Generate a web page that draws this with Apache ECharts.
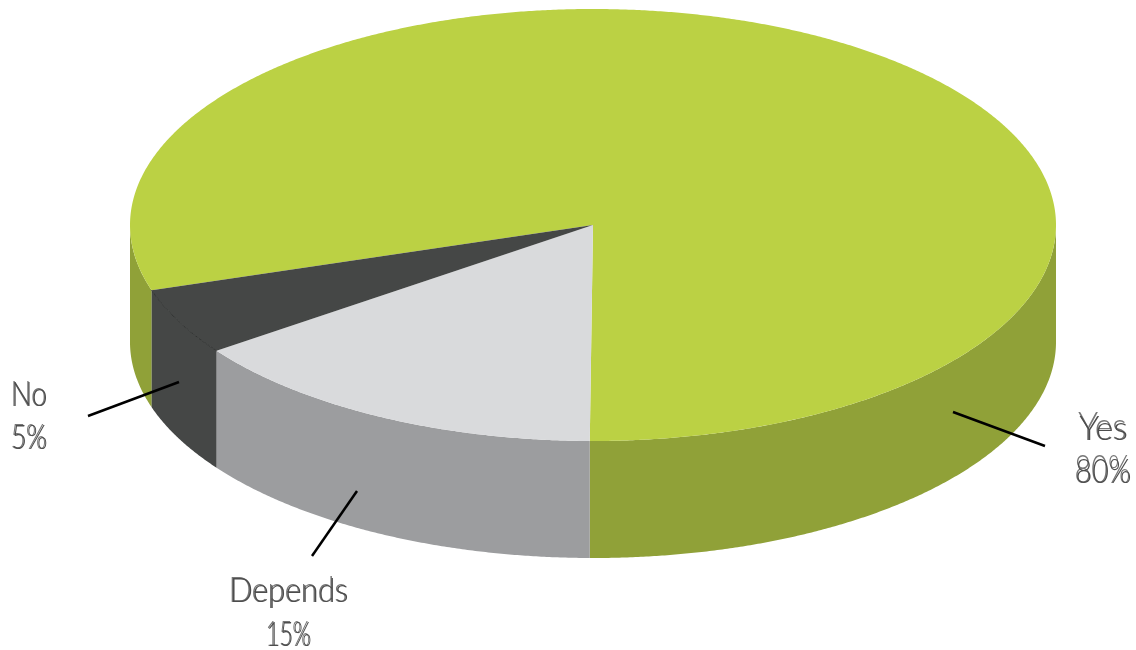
<!DOCTYPE html>
<html>
<head>
<meta charset="utf-8">
<style>html,body{margin:0;padding:0;background:#fff}#chart{width:1136px;height:650px}</style>
<script src="https://cdn.jsdelivr.net/npm/echarts@6/dist/echarts.min.js"></script>
</head>
<body>
<div id="chart"></div>
<script>
// Survey answers
const categories = ['Yes', 'Depends', 'No'];
const shares = [80, 15, 5];
const valueLabels = ['80%', '15%', '5%'];

// Slice colours
const topColors = ['#bbd144', '#d9dadc', '#454746'];
const sideColors = ['#90a138', '#9c9d9f', '#454746'];

// Disc geometry in pixels; angles run clockwise from the front of the disc
const disc = { cx: 593, cy: 225, rx: 463, ry: 216, depth: 117, firstAngle: 72.4 };

// Callout placement: leader line ends, text block position and horizontal fit for each slice
const callouts = [
  { line: [[953, 412], [1045, 446]], x: 1103, nameY: 441, valueY: 484, stretch: 1.2, nameFit: 1.03, valueFit: 0.875 },
  { line: [[357, 491], [312, 556]], x: 288.5, nameY: 603, valueY: 647, stretch: 1.1, nameFit: 0.93, valueFit: 0.7 },
  { line: [[179, 382], [88, 416]], x: 29, nameY: 407, valueY: 450, stretch: 1.06, nameFit: 0.84, valueFit: 0.8 }
];
const labelFont = '300 33px Lato, "Open Sans", sans-serif';

const total = shares.reduce((a, b) => a + b, 0);
const spans = [];
shares.reduce((start, v) => {
  const end = start + v / total * 360;
  spans.push([start, end]);
  return end;
}, disc.firstAngle);

function rimPoint(deg, drop) {
  const r = deg * Math.PI / 180;
  return [disc.cx - disc.rx * Math.sin(r), disc.cy + disc.ry * Math.cos(r) + (drop || 0)];
}
function arcPoints(a0, a1, drop) {
  const pts = [];
  const n = Math.max(2, Math.ceil(Math.abs(a1 - a0) * 3));
  for (let i = 0; i <= n; i++) pts.push(rimPoint(a0 + (a1 - a0) * i / n, drop));
  return pts;
}
// Parts of a slice's rim that face the viewer
function frontRanges(a0, a1) {
  const out = [];
  for (const c of [0, 360]) {
    const lo = Math.max(a0, c - 90), hi = Math.min(a1, c + 90);
    if (hi > lo) out.push([lo, hi]);
  }
  return out;
}

function renderSide(params, api) {
  const i = api.value(0);
  const [a0, a1] = spans[i];
  const children = frontRanges(a0, a1).map(([lo, hi]) => ({
    type: 'polygon',
    shape: { points: arcPoints(lo, hi, 0).concat(arcPoints(hi, lo, disc.depth)) },
    style: { fill: sideColors[i] }
  }));
  return { type: 'group', children };
}

function renderTop(params, api) {
  const i = api.value(0);
  const [a0, a1] = spans[i];
  const rim = arcPoints(a0, a1, 0);
  const children = [{
    type: 'polygon',
    shape: { points: [[disc.cx, disc.cy]].concat(rim) },
    style: { fill: topColors[i] }
  }];
  if (i === 2) {
    // Faint edge where the dark slice meets its own side wall
    children.push({
      type: 'polyline',
      shape: { points: rim },
      style: { fill: 'none', stroke: '#2f3130', lineWidth: 1 }
    });
  }
  return { type: 'group', children };
}

// Each label is set twice: a lighter, taller copy behind a normal one, sharing a baseline
function labelPair(text, c, y, stretch, fit) {
  const base = { text, font: labelFont, align: 'center', verticalAlign: 'bottom' };
  const lift = 5;
  return [
    {
      type: 'text', x: c.x - 0.6, y: y + lift, scaleX: fit, scaleY: stretch, originX: 0, originY: -lift,
      style: Object.assign({ fill: '#777777' }, base)
    },
    {
      type: 'text', x: c.x + 0.6, y: y + lift, scaleX: fit,
      style: Object.assign({ fill: '#4d4d4d' }, base)
    }
  ];
}

function renderCallout(params, api) {
  const i = api.value(0);
  const c = callouts[i];
  return {
    type: 'group',
    children: [{
      type: 'line',
      shape: { x1: c.line[0][0], y1: c.line[0][1], x2: c.line[1][0], y2: c.line[1][1] },
      style: { stroke: '#000', lineWidth: 2.5 }
    }].concat(
      labelPair(categories[i], c, c.nameY, c.stretch, c.nameFit),
      labelPair(valueLabels[i], c, c.valueY, c.stretch, c.valueFit)
    )
  };
}

const rows = categories.map((name, i) => [i, shares[i], name]);
const chart = echarts.init(document.getElementById('chart'));
chart.setOption({
  backgroundColor: '#fff',
  animation: false,
  series: [
    { type: 'custom', coordinateSystem: 'none', data: rows, renderItem: renderSide, z: 1, silent: true },
    { type: 'custom', coordinateSystem: 'none', data: rows, renderItem: renderTop, z: 2, silent: true },
    { type: 'custom', coordinateSystem: 'none', data: rows, renderItem: renderCallout, z: 3, silent: true }
  ]
});
</script>
</body>
</html>
